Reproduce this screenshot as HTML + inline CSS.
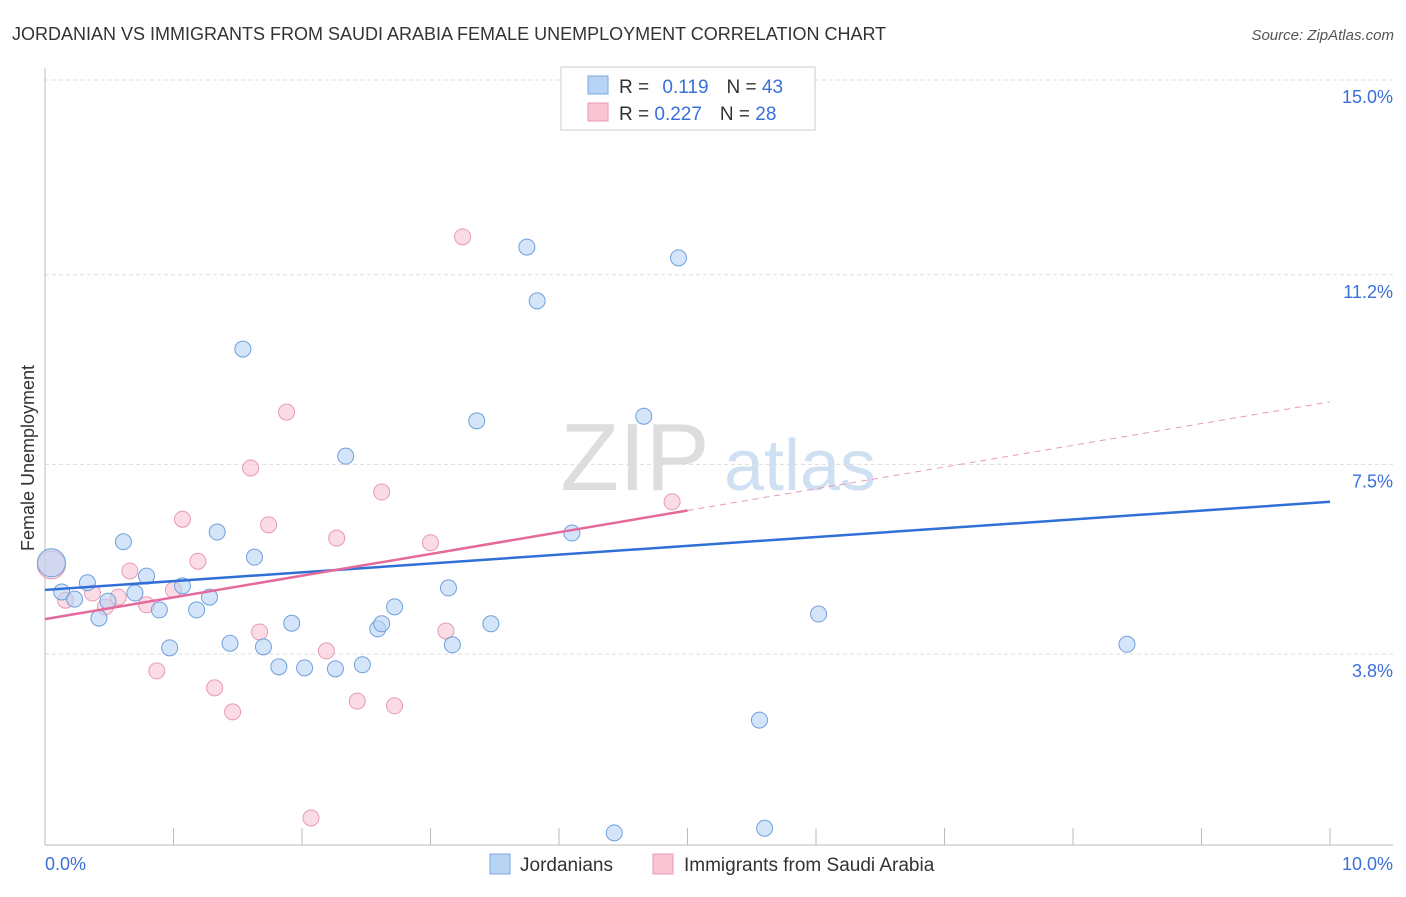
<!DOCTYPE html>
<html><head><meta charset="utf-8"><style>
body{margin:0;background:#fff;font-family:"Liberation Sans",sans-serif}
svg text{font-family:"Liberation Sans",sans-serif}
</style></head><body>
<svg id="c" width="1406" height="892" xmlns="http://www.w3.org/2000/svg">
<text x="12" y="40" font-size="18" fill="#333">JORDANIAN VS IMMIGRANTS FROM SAUDI ARABIA FEMALE UNEMPLOYMENT CORRELATION CHART</text>
<text x="1394" y="40" font-size="15" fill="#555" text-anchor="end" font-style="italic">Source: ZipAtlas.com</text>
<text x="34" y="458" font-size="18" fill="#333" text-anchor="middle" transform="rotate(-90 34 458)">Female Unemployment</text>
<g><text x="635" y="490" font-size="96" fill="#ddd" font-family="Liberation Serif" text-anchor="middle">ZIP</text><text x="800" y="490" font-size="72" fill="#cfe0f3" text-anchor="middle">atlas</text></g>
<g id="grid"></g><g id="marks"></g>
<g>
<rect x="561" y="67" width="254" height="63" fill="#fff" stroke="#ccc"/>
<rect x="588" y="76" width="20" height="18" fill="#b8d4f5" stroke="#7aa6df"/>
<rect x="588" y="103" width="20" height="18" fill="#f9c5d5" stroke="#e89ab1"/>
<text x="619" y="93" font-size="19" fill="#333">R = <tspan fill="#3a6fd8" dx="8">0.119</tspan><tspan dx="18">N = </tspan><tspan fill="#3a6fd8">43</tspan></text>
<text x="619" y="120" font-size="19" fill="#333">R = <tspan fill="#3a6fd8">0.227</tspan><tspan dx="18">N = </tspan><tspan fill="#3a6fd8">28</tspan></text>
</g>
<g>
<rect x="490" y="854" width="20" height="20" fill="#b8d4f5" stroke="#7aa6df"/><text x="520" y="871" font-size="19" fill="#333">Jordanians</text>
<rect x="653" y="854" width="20" height="20" fill="#f9c5d5" stroke="#e89ab1"/><text x="684" y="871" font-size="19" fill="#333">Immigrants from Saudi Arabia</text>
</g>
</svg>
<script>
const yTicks=[3.8,7.5,11.2,15.0];
const yTickLabels=["3.8%","7.5%","11.2%","15.0%"];
const xTickLabels=["0.0%","10.0%"];
const blueX=[0.05,0.13,0.23,0.33,0.42,0.49,0.61,0.70,0.79,0.89,0.97,1.07,1.18,1.28,1.34,1.44,1.54,1.63,1.70,1.82,1.92,2.02,2.26,2.34,2.47,2.59,2.62,2.72,3.14,3.17,3.36,3.47,3.75,3.83,4.10,4.43,4.66,4.93,5.56,5.60,6.02,8.42];
const blueY=[5.58,5.01,4.87,5.19,4.50,4.83,5.99,4.99,5.32,4.66,3.92,5.13,4.66,4.91,6.18,4.01,9.75,5.69,3.94,3.55,4.40,3.53,3.51,7.66,3.59,4.29,4.39,4.72,5.09,3.98,8.35,4.39,11.74,10.69,6.16,0.31,8.44,11.53,2.51,0.40,4.58,3.99];
const pinkX=[0.05,0.16,0.37,0.47,0.57,0.66,0.79,0.87,1.00,1.07,1.19,1.32,1.46,1.60,1.67,1.74,1.88,2.07,2.19,2.27,2.43,2.62,2.72,3.00,3.12,3.25,4.88];
const pinkY=[5.54,4.85,4.99,4.72,4.91,5.42,4.76,3.47,5.05,6.43,5.61,3.14,2.67,7.43,4.23,6.32,8.52,0.60,3.86,6.06,2.88,6.96,2.79,5.97,4.25,11.94,6.77];
const blueTrend=[5.05,6.77]; // value at x=0 and x=10
const pinkTrend=[4.48,8.72];
const pinkSolidEnd=5.0;
const X=v=>45+v*128.5, Y=v=>80+(15-v)*51.25;
const NS="http://www.w3.org/2000/svg";
function mk(t,a,p){const e=document.createElementNS(NS,t);for(const k in a)e.setAttribute(k,a[k]);p.appendChild(e);return e;}
const g=document.getElementById('grid'), m=document.getElementById('marks');
yTicks.forEach((t,i)=>{
 const l=mk('line',{x1:45,x2:1393,y1:Y(t),y2:Y(t),stroke:'#ddd','stroke-dasharray':'4,3'},g);
 
 
 const tx=mk('text',{x:1393,y:Y(t)+23,'font-size':18,fill:'#3a6fd8','text-anchor':'end'},g);tx.textContent=yTickLabels[i];
 
 
});
const ax=mk('line',{x1:45,x2:45,y1:68,y2:845,stroke:'#bbb'},g);


const bx=mk('line',{x1:45,x2:1393,y1:845,y2:845,stroke:'#bbb'},g);


for(let i=0;i<=10;i++){const t=mk('line',{x1:X(i),x2:X(i),y1:828,y2:845,stroke:'#bbb'},g);
 
 }
xTickLabels.forEach((s,i)=>{const t=mk('text',{x:i?1393:45,y:870,'font-size':18,fill:'#3a6fd8','text-anchor':i?'end':'start'},g);t.textContent=s;
 
 });
function pts(xs,ys,fill,stroke,name){xs.forEach((x,i)=>{const c=mk('circle',{cx:X(x),cy:Y(ys[i]),r:i==0?14:8,fill:fill,stroke:stroke,'fill-opacity':0.6},m);
 
 });}
pts(pinkX,pinkY,'#f9c5d5','#e89ab1','saudi-point');
pts(blueX,blueY,'#b8d4f5','#6f9fdc','jordanian-point');
const bl=mk('line',{x1:X(0),y1:Y(blueTrend[0]),x2:X(10),y2:Y(blueTrend[1]),stroke:'#2f6fd6','stroke-width':2.5},m);


const pe=pinkTrend[0]+(pinkTrend[1]-pinkTrend[0])*pinkSolidEnd/10;
const pl=mk('line',{x1:X(0),y1:Y(pinkTrend[0]),x2:X(pinkSolidEnd),y2:Y(pe),stroke:'#e5699a','stroke-width':2.5},m);


const pd=mk('line',{x1:X(pinkSolidEnd),y1:Y(pe),x2:X(10),y2:Y(pinkTrend[1]),stroke:'#e89ab1','stroke-width':1,'stroke-dasharray':'6,5'},m);


</script>
</body></html>
